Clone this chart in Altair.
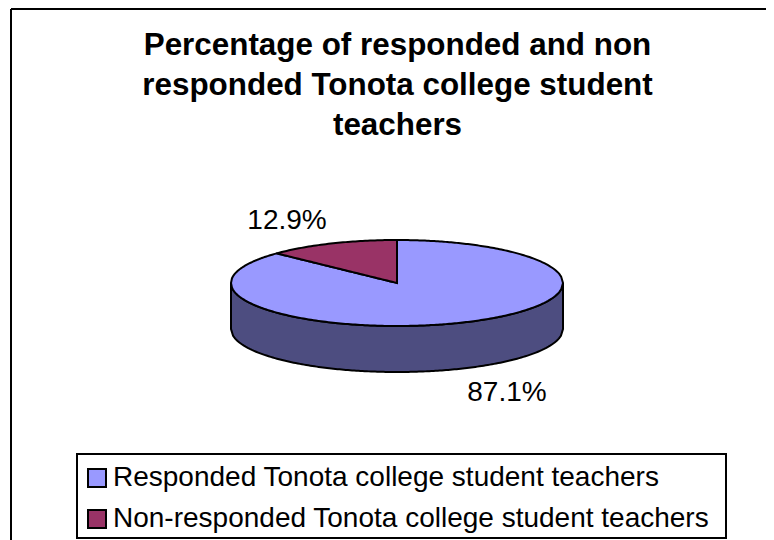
import altair as alt
import numpy as np
import pandas as pd

categories = ["Responded Tonota college student teachers",
              "Non-responded Tonota college student teachers"]
percentages = [87.1, 12.9]
slice_colors = ["#9999FF", "#993366"]
side_color = "#4D4D80"
title_lines = ["Percentage of responded and non",
               "responded Tonota college student",
               "teachers"]

# layout of the picture, in pixels of the plot area
W, H = 755, 531
CX, CY, RX, RY, DEPTH = 386, 274, 166, 43, 46

wedge = np.deg2rad(percentages[1] * 3.6)
ex = -np.sin(wedge)          # left end of the small slice on the unit circle
ey = np.cos(wedge)
rim = lambda x: np.sqrt(np.clip(1 - x ** 2, 0, 1))
spoke = lambda x: (x / ex) * ey

left = np.linspace(-1, ex, 50)
mid = np.linspace(ex, 0, 50)
right = np.linspace(0, 1, 90)

rows = []
for x in left:
    rows.append((categories[0], x, rim(x), -rim(x)))
for x in mid:
    rows.append((categories[0], x, spoke(x), -rim(x)))
for x in right:
    rows.append((categories[0], x, rim(x), -rim(x)))
for x in mid:
    rows.append((categories[1], x, rim(x), spoke(x)))
top = pd.DataFrame(rows, columns=["slice", "x", "y", "y2"])

xs = np.linspace(-1, 1, 160)
side = pd.DataFrame({"x": xs, "y": -rim(xs), "y2": -rim(xs) - DEPTH / RY})

mids = [np.pi - wedge / 2, -wedge / 2]
labels = pd.DataFrame({
    "text": [f"{p}%" for p in percentages],
    "x": [1.68 * np.sin(a) for a in mids],
    "y": [1.57 * np.cos(a) - ((DEPTH + 2) / RY if np.cos(a) < 0 else 0) for a in mids],
})

xscale = alt.Scale(domain=[-CX / RX, (W - CX) / RX], nice=False, zero=False)
yscale = alt.Scale(domain=[(CY - H) / RY, CY / RY], nice=False, zero=False)
X = alt.X("x:Q", scale=xscale, axis=None)
Y = alt.Y("y:Q", scale=yscale, axis=None)

anchor = pd.DataFrame({"edge": ["frame"]})
top_edge = alt.Chart(anchor).mark_rule(color="black", strokeWidth=2).encode(
    x=alt.value(0), x2=alt.value(W), y=alt.value(0))
left_edge = alt.Chart(anchor).mark_rule(color="black", strokeWidth=2).encode(
    y=alt.value(0), y2=alt.value(H), x=alt.value(0))
legend_box = alt.Chart(anchor).mark_rect(
    fillOpacity=0, stroke="black", strokeWidth=2
).encode(x=alt.value(66), x2=alt.value(715), y=alt.value(445), y2=alt.value(529))

side_layer = alt.Chart(side).mark_area(
    color=side_color, stroke="black", strokeWidth=2, orient="vertical"
).encode(x=X, y=Y, y2="y2:Q")

top_layer = alt.Chart(top).mark_area(
    stroke="black", strokeWidth=2, orient="vertical"
).encode(
    x=X, y=Y, y2="y2:Q",
    color=alt.Color(
        "slice:N",
        scale=alt.Scale(domain=categories, range=slice_colors),
        legend=alt.Legend(
            title=None, orient="none", legendX=64, legendY=447,
            symbolType="square", symbolSize=324, symbolStrokeColor="black",
            symbolStrokeWidth=2, labelFont="Liberation Sans", labelFontSize=28,
            labelColor="black", labelLimit=700, labelOffset=2,
            padding=8, rowPadding=13,
        ),
    ),
)

text_layer = alt.Chart(labels).mark_text(
    font="Liberation Sans", fontSize=28, color="black"
).encode(x=X, y=Y, text="text:N")

chart = (
    alt.layer(top_edge, left_edge, legend_box, side_layer, top_layer, text_layer)
    .properties(
        width=W, height=H,
        padding={"left": 3, "top": 1, "right": 0, "bottom": 0},
        autosize=alt.AutoSizeParams(type="none"),
        title=alt.TitleParams(
            text=title_lines, font="Liberation Sans", fontSize=31.4,
            fontWeight="bold", color="black", anchor="middle",
            frame="group", lineHeight=40, dx=9, dy=137,
        ),
    )
    .configure_view(stroke=None)
)

chart.save("out.html", embed_options={"renderer": "svg", "actions": False})
